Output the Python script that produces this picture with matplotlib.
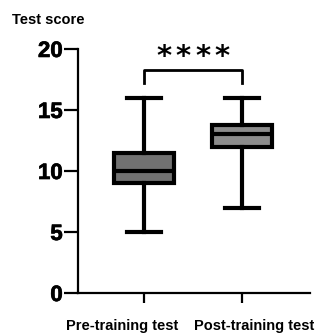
import matplotlib
matplotlib.use("Agg")
import matplotlib.pyplot as plt
import matplotlib.patheffects as pe

groups = ["Pre-training test", "Post-training test"]
whislo = [5, 7]
q1 = [9, 12]
med = [10, 13]
q3 = [11.5, 13.8]
whishi = [16, 16]
colors = ["#717171", "#8c8c8c"]
n_stars = 4
sig_height = 18.3

plt.rcParams["font.family"] = ["Liberation Sans", "DejaVu Sans"]
plt.rcParams["font.weight"] = "bold"

fig = plt.figure(figsize=(3.21, 3.33), dpi=100)
ax = fig.add_axes([0.243, 0.12, 0.723, 0.733])

stats = []
for i, g in enumerate(groups):
    stats.append({"label": g, "whislo": whislo[i], "q1": q1[i], "med": med[i],
                  "q3": q3[i], "whishi": whishi[i], "fliers": []})

lw = 3
bp = ax.bxp(stats, positions=[0, 1], widths=0.61, patch_artist=True,
            showfliers=False, capwidths=0.34,
            boxprops=dict(linewidth=lw, edgecolor="black"),
            medianprops=dict(linewidth=lw, color="black"),
            whiskerprops=dict(linewidth=lw, color="black"),
            capprops=dict(linewidth=lw, color="black"))
for patch, c in zip(bp["boxes"], colors):
    patch.set_facecolor(c)

ax.set_xlim(-0.673, 1.694)
ax.set_ylim(0, 20)
ax.set_yticks([0, 5, 10, 15, 20])
ax.set_xticklabels([])
ax.spines["top"].set_visible(False)
ax.spines["right"].set_visible(False)
ax.spines["left"].set_linewidth(1.6)
ax.spines["bottom"].set_linewidth(1.6)
ax.tick_params(axis="y", length=10, width=1.6, labelsize=16, pad=1)
ax.tick_params(axis="x", length=7, width=1.6)
heavy = [pe.withStroke(linewidth=0.5, foreground="black")]
for lab in ax.get_yticklabels():
    lab.set_fontweight("bold")
    lab.set_path_effects(heavy)

# group labels sit slightly apart from the ticks, as in the original
label_x = [0.379, 0.793]
for g, x in zip(groups, label_x):
    fig.text(x, 0.021, g, ha="center", va="center", fontsize=10.5,
             fontweight="bold")

# significance bracket
ax.plot([0, 0, 1, 1], [17.2, sig_height, sig_height, 17.2], color="black",
        lw=2, clip_on=False)
step = 0.2
for k in range(n_stars):
    sx = 0.5 + (k - (n_stars - 1) / 2) * step
    ax.text(sx, 19.3, "*", ha="center", va="center", fontsize=21,
            fontweight="bold", family="DejaVu Sans")

fig.text(0.037, 0.94, "Test score", ha="left", va="center", fontsize=10.5,
         fontweight="bold")

fig.savefig("out.png", dpi=100)
